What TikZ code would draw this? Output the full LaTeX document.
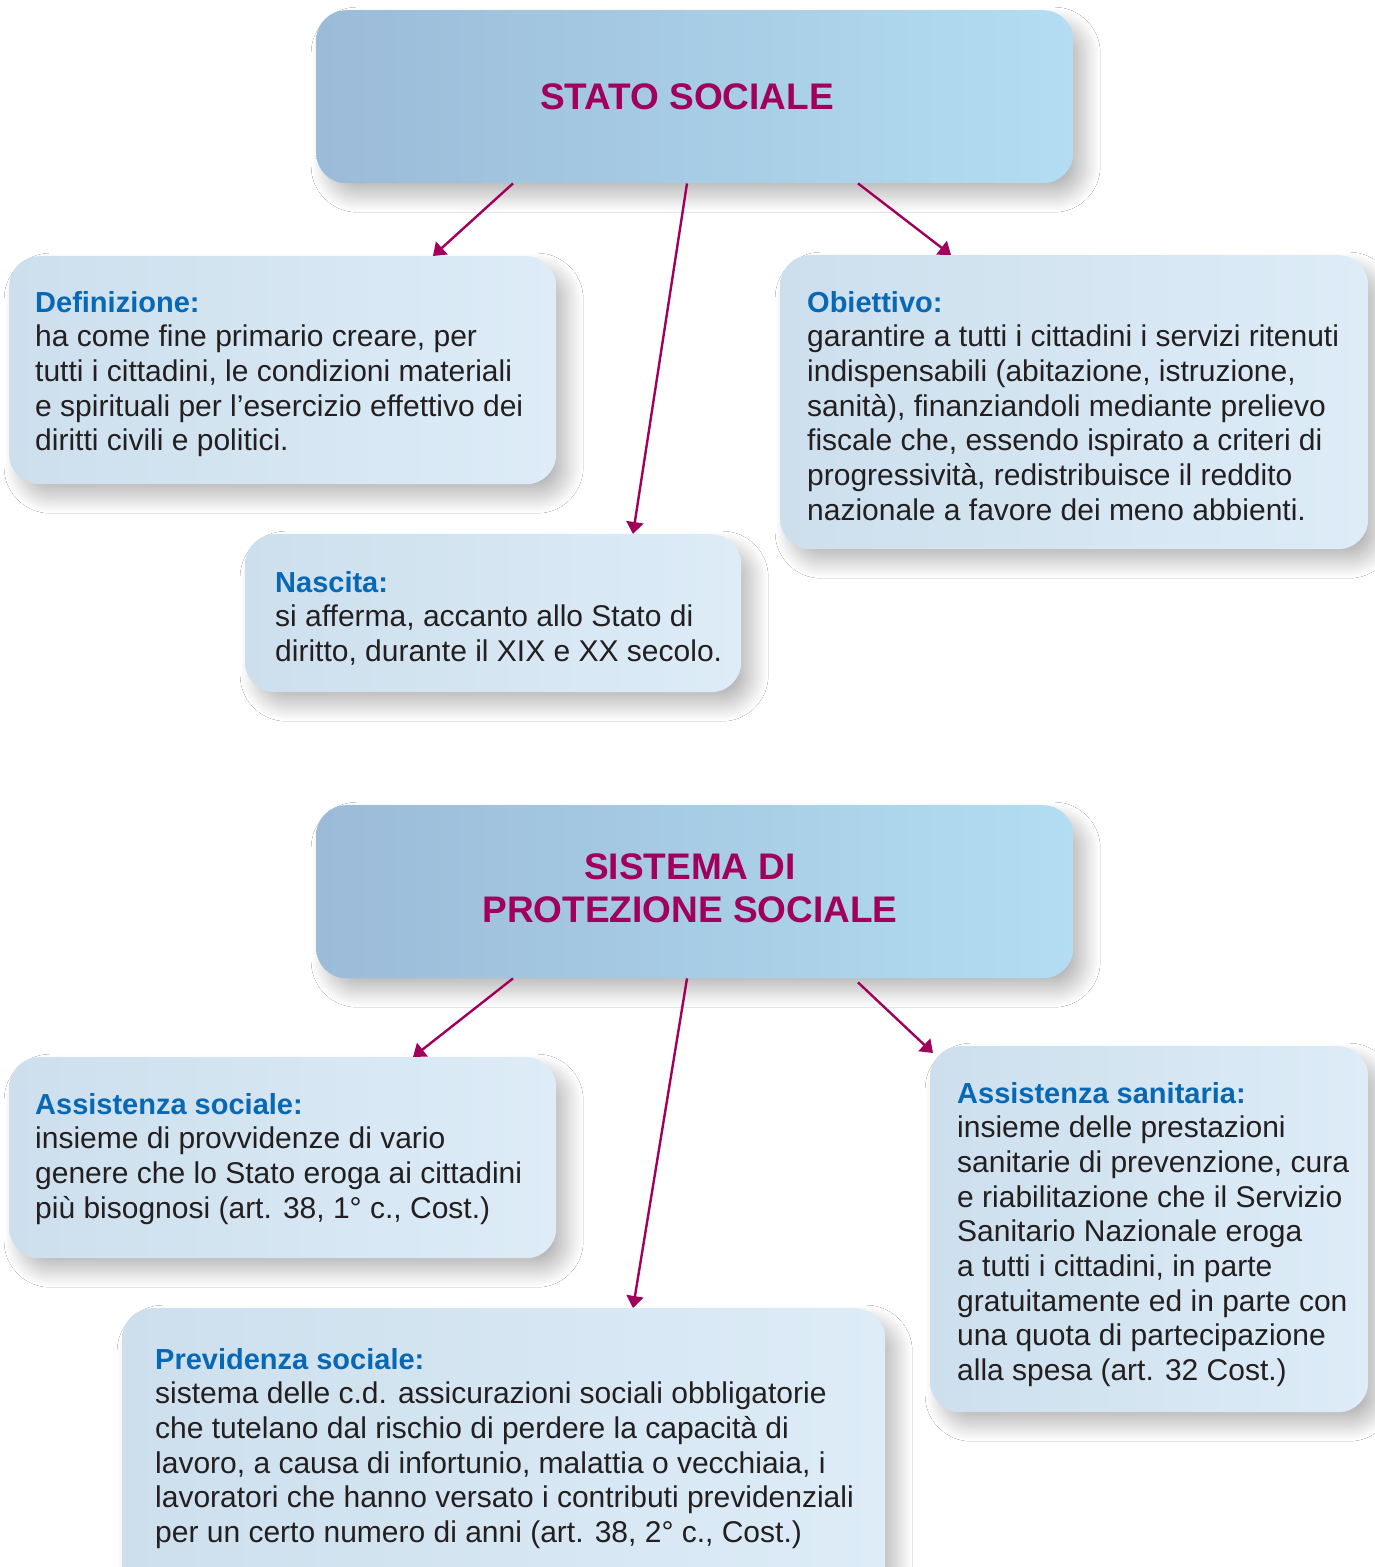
\documentclass[tikz,border=0pt]{standalone}
\usepackage{fontspec}
\setmainfont{Liberation Sans}
\usetikzlibrary{shadows.blur,calc,arrows.meta}
\definecolor{mag}{HTML}{A0005C}
\definecolor{hblue}{HTML}{0868B4}
\definecolor{bodyc}{HTML}{231F20}
\definecolor{bigL}{HTML}{9BBBD8}
\definecolor{bigR}{HTML}{B3DDF2}
\definecolor{smL}{HTML}{CDDFED}
\definecolor{smR}{HTML}{DDECF7}
\newcommand\boxhead[1]{\leavevmode{\fontsize{29}{34.7}\selectfont\bfseries\color{hblue}#1}}
\tikzset{
  shadowed/.style={blur shadow={shadow xshift=11pt, shadow yshift=-13pt, shadow blur radius=16pt, shadow blur steps=40, shadow opacity=28}},
  bigbox/.style={shadowed, rounded corners=30pt, left color=bigL, right color=bigR, draw=none, inner sep=0pt, anchor=north west},
  smallbox/.style={shadowed, rounded corners=30pt, left color=smL, right color=smR, draw=none, inner sep=0pt, anchor=north west},
  bigtitle/.style={font=\fontsize{37}{43}\selectfont\bfseries, text=mag, inner sep=0pt, align=center},
  txt/.style={font=\fontsize{30}{34.7}\selectfont, text=bodyc, inner sep=0pt, anchor=base west},
  arr/.style={draw=mag, line width=2.4pt, -{Triangle[length=12pt,width=17pt]}}
}
\begin{document}
\begin{tikzpicture}[x=1pt,y=-1pt]
\clip (0,0) rectangle (1375,1567);
\fill[white] (0,0) rectangle (1375,1567);
% top group
\node[bigbox, minimum width=757pt, minimum height=173pt] (stato) at (316,10) {};
\node[bigtitle] (statot) at (687,97) {STATO SOCIALE};
\node[smallbox, minimum width=547pt, minimum height=228pt] (def) at (9,256) {};
\node[txt] (deft) at (35,312) {\parbox[t]{520pt}{\boxhead{Definizione:}\\ha come fine primario creare, per\\tutti i cittadini, le condizioni materiali\\e spirituali per l’esercizio effettivo dei\\diritti civili e politici.}};
\node[smallbox, minimum width=588pt, minimum height=294pt] (obi) at (780,255) {};
\node[txt] (obit) at (807,312) {\parbox[t]{560pt}{\boxhead{Obiettivo:}\\garantire a tutti i cittadini i servizi ritenuti\\indispensabili (abitazione, istruzione,\\sanità), finanziandoli mediante prelievo\\fiscale che, essendo ispirato a criteri di\\progressività, redistribuisce il reddito\\nazionale a favore dei meno abbienti.}};
\node[smallbox, minimum width=496pt, minimum height=158pt] (nasc) at (245,534) {};
\node[txt] (nasct) at (275,592) {\parbox[t]{470pt}{\boxhead{Nascita:}\\si afferma, accanto allo Stato di\\diritto, durante il XIX e XX secolo.}};
\draw[arr] ($(stato.south west)+(197,0)$) -- ($(def.north west)+(424,0)$);
\draw[arr] ($(stato.south west)+(371,0)$) -- ($(nasc.north west)+(388,0)$);
\draw[arr] ($(stato.south west)+(542,0)$) -- ($(obi.north west)+(171,0)$);
% bottom group
\node[bigbox, minimum width=757pt, minimum height=173pt] (sist) at (316,805) {};
\node[bigtitle] (sistt) at (690,888.5) {SISTEMA DI\\PROTEZIONE SOCIALE};
\node[smallbox, minimum width=547pt, minimum height=201pt] (asoc) at (9,1057) {};
\node[txt] (asoct) at (35,1114) {\parbox[t]{520pt}{\boxhead{Assistenza sociale:}\\insieme di provvidenze di vario\\genere che lo Stato eroga ai cittadini\\più bisognosi (art. 38, 1° c., Cost.)}};
\node[smallbox, minimum width=763pt, minimum height=290pt] (prev) at (122,1308) {};
\node[txt] (prevt) at (155,1369) {\parbox[t]{720pt}{\boxhead{Previdenza sociale:}\\sistema delle c.d. assicurazioni sociali obbligatorie\\che tutelano dal rischio di perdere la capacità di\\lavoro, a causa di infortunio, malattia o vecchiaia, i\\lavoratori che hanno versato i contributi previdenziali\\per un certo numero di anni (art. 38, 2° c., Cost.)}};
\node[smallbox, minimum width=438pt, minimum height=366pt] (asan) at (930,1046) {};
\node[txt] (asant) at (957,1103) {\parbox[t]{420pt}{\boxhead{Assistenza sanitaria:}\\insieme delle prestazioni\\sanitarie di prevenzione, cura\\e riabilitazione che il Servizio\\Sanitario Nazionale eroga\\a tutti i cittadini, in parte\\gratuitamente ed in parte con\\una quota di partecipazione\\alla spesa (art. 32 Cost.)}};
\draw[arr] ($(sist.south west)+(197,0)$) -- ($(asoc.north west)+(404,0)$);
\draw[arr] ($(sist.south west)+(371,0)$) -- ($(prev.north west)+(511,0)$);
\draw[arr] ($(sist.south west)+(542,4)$) -- ($(asan.north west)+(3,7)$);
\end{tikzpicture}
\end{document}
